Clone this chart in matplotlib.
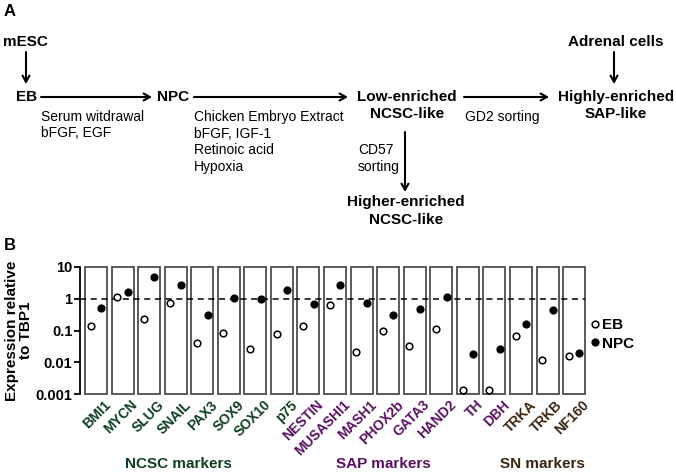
import matplotlib
matplotlib.use("Agg")
import matplotlib.pyplot as plt
from matplotlib.patches import Rectangle
import matplotlib.transforms as mtransforms

plt.rcParams['font.family'] = ['Liberation Sans', 'DejaVu Sans']

# ---------------- data ----------------
markers = ['BMI1', 'MYCN', 'SLUG', 'SNAIL', 'PAX3', 'SOX9', 'SOX10', 'p75',
           'NESTIN', 'MUSASHI1', 'MASH1', 'PHOX2b', 'GATA3', 'HAND2', 'TH', 'DBH',
           'TRKA', 'TRKB', 'NF160']
marker_group = ['NCSC'] * 8 + ['SAP'] * 8 + ['SN'] * 3
eb_values = [0.14, 1.16, 0.23, 0.72, 0.040, 0.083, 0.027, 0.078,
             0.14, 0.62, 0.021, 0.10, 0.033, 0.11, 0.0013, 0.0013,
             0.069, 0.0114, 0.016]
npc_values = [0.50, 1.6, 4.7, 2.8, 0.30, 1.08, 1.0, 1.9,
              0.67, 2.7, 0.73, 0.31, 0.48, 1.13, 0.018, 0.027,
              0.16, 0.43, 0.020]
group_names = ['NCSC markers', 'SAP markers', 'SN markers']
group_keys = ['NCSC', 'SAP', 'SN']
y_ticks = [0.001, 0.01, 0.1, 1, 10]
y_tick_labels = ['0.001', '0.01', '0.1', '1', '10']

group_colors = {'NCSC': '#0e3f1f', 'SAP': '#5a1162', 'SN': '#3b2410'}

W, H = 676, 472
fig = plt.figure(figsize=(W / 100, H / 100), dpi=100)

# ---------------- panel A (pixel-coordinate canvas) ----------------
axA = fig.add_axes([0, 0, 1, 1])
axA.set_xlim(0, W)
axA.set_ylim(H, 0)
axA.axis('off')

bold = dict(fontsize=11, fontweight='bold', color='black')
norm = dict(fontsize=10, color='black')

def arrow(x0, y0, x1, y1):
    axA.annotate('', xy=(x1, y1), xytext=(x0, y0),
                 arrowprops=dict(arrowstyle='->,head_length=0.45,head_width=0.25',
                                 lw=1.5, color='black', shrinkA=0, shrinkB=0))

axA.text(4, 12, 'A', fontsize=12, fontweight='bold', va='center', ha='left')
axA.text(3, 42, 'mESC', va='center', ha='left', **bold)
arrow(26, 52, 26, 84)
axA.text(16, 97, 'EB', va='center', ha='left', **bold)
arrow(41, 97, 152, 97)
axA.text(41, 117, 'Serum witdrawal', va='center', ha='left', **norm)
axA.text(41, 133, 'bFGF, EGF', va='center', ha='left', **norm)
axA.text(157, 97, 'NPC', va='center', ha='left', **bold)
arrow(194, 97, 348, 97)
for i, t in enumerate(['Chicken Embryo Extract', 'bFGF, IGF-1', 'Retinoic acid', 'Hypoxia']):
    axA.text(194, 117 + 16.5 * i, t, va='center', ha='left', **norm)
axA.text(407, 97, 'Low-enriched', va='center', ha='center', **bold)
axA.text(407, 114, 'NCSC-like', va='center', ha='center', **bold)
arrow(464, 97, 549, 97)
axA.text(465, 117, 'GD2 sorting', va='center', ha='left', **norm)
axA.text(616, 97, 'Highly-enriched', va='center', ha='center', **bold)
axA.text(616, 114, 'SAP-like', va='center', ha='center', **bold)
axA.text(616, 42, 'Adrenal cells', va='center', ha='center', **bold)
arrow(614, 52, 614, 84)
arrow(405, 132, 405, 192)
axA.text(358, 150, 'CD57', va='center', ha='left', **norm)
axA.text(358, 167, 'sorting', va='center', ha='left', **norm)
axA.text(406, 202, 'Higher-enriched', va='center', ha='center', **bold)
axA.text(406, 220, 'NCSC-like', va='center', ha='center', **bold)
axA.text(4, 245, 'B', fontsize=12, fontweight='bold', va='center', ha='left')

# ---------------- panel B ----------------
pitch = 26.56
ax_left, ax_right, ax_top, ax_bot = 80, 590, 267, 394
ax = fig.add_axes([ax_left / W, (H - ax_bot) / H, (ax_right - ax_left) / W, (ax_bot - ax_top) / H])
x0 = (ax_left - 96) / pitch
x1 = (ax_right - 96) / pitch
ax.set_xlim(x0, x1)
ax.set_yscale('log')
ax.set_ylim(0.001, 10)
ax.patch.set_alpha(0)

half = 11 / pitch
xs = list(range(len(markers)))
for i in xs:
    ax.add_patch(Rectangle((i - half, 0.001), 2 * half, 10 - 0.001, fill=False,
                           edgecolor='#4d4d4d', lw=1.3, zorder=1, clip_on=False))

ax.plot([x0, len(markers) - 1 + half], [1, 1], ls=(0, (4, 3)), color='black', lw=1.1, zorder=2)

off = 0.2
ax.plot([x - off for x in xs], eb_values, 'o', ms=4.8, mfc='white', mec='black', mew=1.1,
        zorder=3, clip_on=False, label='EB')
ax.plot([x + off for x in xs], npc_values, 'o', ms=4.8, mfc='black', mec='black', mew=1.1,
        zorder=3, clip_on=False, label='NPC')

for s in ['top', 'right', 'bottom']:
    ax.spines[s].set_visible(False)
ax.spines['left'].set_linewidth(1.3)
ax.set_yticks(y_ticks)
ax.set_yticklabels(y_tick_labels, fontsize=10.5, fontweight='bold')
ax.yaxis.set_minor_locator(matplotlib.ticker.NullLocator())
ax.tick_params(axis='y', length=4.5, width=1.3, pad=1)
ax.set_xticks([])

ax.set_ylabel('Expression relative\nto TBP1', fontsize=11, fontweight='bold', labelpad=2,
              linespacing=1.0)

trans = mtransforms.blended_transform_factory(ax.transData, ax.transAxes)
for i, (m, g) in enumerate(zip(markers, marker_group)):
    ax.text(i + 0.3, -0.03, m, transform=trans, rotation=45, ha='right', va='top',
            rotation_mode='anchor', fontsize=10, fontweight='bold', color=group_colors[g])

group_x = [(178 - 96) / pitch, (383 - 96) / pitch, (542 - 96) / pitch]
for name, key, gx in zip(group_names, group_keys, group_x):
    ax.text(gx, -0.55, name, transform=trans, ha='center', va='center', fontsize=11,
            fontweight='bold', color=group_colors[key])

leg = ax.legend(loc='center left', bbox_to_anchor=(0.985, 0.47), frameon=False,
                prop=dict(size=11, weight='bold'), handlelength=0.4, handletextpad=0.3,
                borderaxespad=0.2, labelspacing=0.3)

fig.savefig('out.png', dpi=100)
